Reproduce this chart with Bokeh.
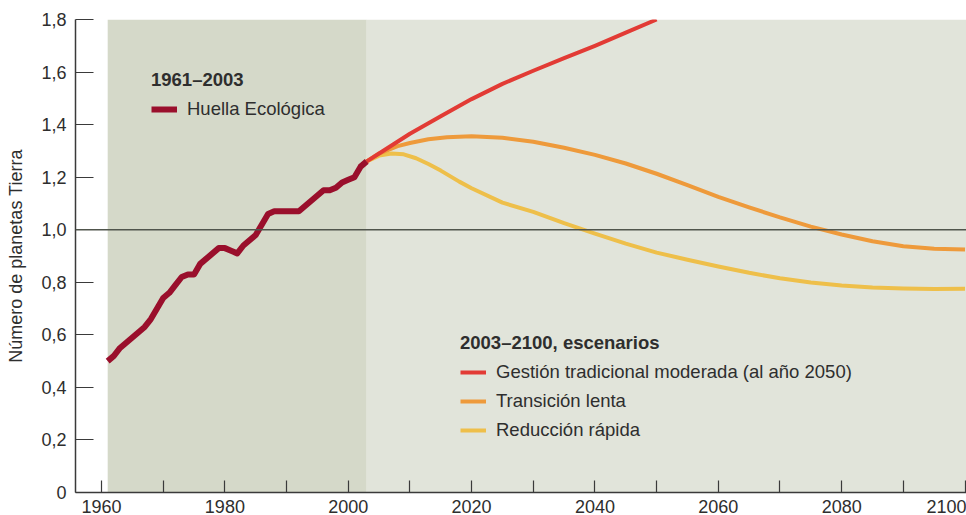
from bokeh.plotting import figure
from bokeh.models import (Range1d, FixedTicker, BoxAnnotation, Span, Legend, LegendItem)
from bokeh.embed import file_html
from bokeh.resources import INLINE

# ---------------- data ----------------
hist_years = list(range(1961, 2004))
huella = [0.50, 0.52, 0.55, 0.57, 0.59, 0.61, 0.63, 0.66, 0.70, 0.74,
          0.76, 0.79, 0.82, 0.83, 0.83, 0.87, 0.89, 0.91, 0.93, 0.93,
          0.92, 0.91, 0.94, 0.96, 0.98, 1.02, 1.06, 1.07, 1.07, 1.07,
          1.07, 1.07, 1.09, 1.11, 1.13, 1.15, 1.15, 1.16, 1.18, 1.19,
          1.20, 1.24, 1.26]

mod_years = [2003, 2005, 2010, 2015, 2020, 2025, 2030, 2035, 2040, 2045, 2050]
moderada = [1.26, 1.29, 1.365, 1.432, 1.497, 1.555, 1.605, 1.653, 1.70, 1.75, 1.80]

lenta_years = [2003, 2005, 2008, 2010, 2013, 2016, 2020, 2025, 2030, 2035, 2040,
               2045, 2050, 2055, 2060, 2065, 2070, 2075, 2080, 2085, 2090, 2095, 2100]
lenta = [1.26, 1.29, 1.318, 1.33, 1.344, 1.352, 1.356, 1.35, 1.335, 1.312, 1.285,
         1.252, 1.213, 1.17, 1.125, 1.085, 1.047, 1.012, 0.982, 0.956, 0.937, 0.928, 0.925]

rapida_years = [2003, 2005, 2007, 2009, 2011, 2013, 2015, 2018, 2020, 2025, 2030, 2035,
                2040, 2045, 2050, 2055, 2060, 2065, 2070, 2075, 2080, 2085, 2090, 2095, 2100]
rapida = [1.26, 1.282, 1.29, 1.287, 1.272, 1.25, 1.225, 1.183, 1.158, 1.103, 1.068, 1.025,
          0.985, 0.947, 0.913, 0.886, 0.86, 0.836, 0.815, 0.799, 0.788, 0.780, 0.776, 0.774, 0.775]

x_ticks = [1960, 1980, 2000, 2020, 2040, 2060, 2080, 2100]
x_minor = [1970, 1990, 2010, 2030, 2050, 2070, 2090]
y_ticks = [0, 0.2, 0.4, 0.6, 0.8, 1.0, 1.2, 1.4, 1.6, 1.8]
y_tick_labels = ["0", "0,2", "0,4", "0,6", "0,8", "1,0", "1,2", "1,4", "1,6", "1,8"]
reference_level = 1.0

title_hist = "1961–2003"
label_hist = "Huella Ecológica"
title_scen = "2003–2100, escenarios"
label_mod = "Gestión tradicional moderada (al año 2050)"
label_lenta = "Transición lenta"
label_rapida = "Reducción rápida"
y_label = "Número de planetas Tierra"

# ---------------- styling ----------------
FONT = "Liberation Sans"
TXT = "#2e2e2e"
C_HIST = "#9a0f2c"
C_MOD = "#e23b35"
C_LENTA = "#ee9a3b"
C_RAPIDA = "#eebf4a"

p = figure(width=966, height=515, output_backend="svg", toolbar_location=None,
           x_range=Range1d(1955.78, 2100.24), y_range=Range1d(0, 1.8),
           min_border_left=75, min_border_right=0, min_border_top=19, min_border_bottom=23)
p.outline_line_color = None
p.background_fill_color = "white"
p.border_fill_color = "white"
p.xgrid.visible = False
p.ygrid.visible = False

# shaded periods
p.add_layout(BoxAnnotation(left=hist_years[0], right=hist_years[-1], fill_color="#d5d9c9",
                           fill_alpha=1, line_alpha=0, level="underlay"))
p.add_layout(BoxAnnotation(left=hist_years[-1], fill_color="#e1e4da",
                           fill_alpha=1, line_alpha=0, level="underlay"))

p.add_layout(Span(location=reference_level, dimension="width", line_color="#50554c",
                  line_width=1.5))

r_rap = p.line(rapida_years, rapida, line_color=C_RAPIDA, line_width=4, line_join="round")
r_len = p.line(lenta_years, lenta, line_color=C_LENTA, line_width=4, line_join="round")
r_mod = p.line(mod_years, moderada, line_color=C_MOD, line_width=4, line_join="round")
r_hist = p.line(hist_years, huella, line_color=C_HIST, line_width=6, line_join="round")

# axes
xa = p.xaxis[0]
xa.ticker = FixedTicker(ticks=x_ticks, minor_ticks=x_minor)
xa.major_tick_in = 12
xa.major_tick_out = 0
xa.minor_tick_in = 12
xa.minor_tick_out = 0
xa.major_label_standoff = 7

ya = p.yaxis[0]
ya.ticker = FixedTicker(ticks=y_ticks, minor_ticks=[])
ya.major_label_overrides = {t: l for t, l in zip(y_ticks, y_tick_labels)}
ya.major_tick_in = 18
ya.major_tick_out = 0
ya.major_label_standoff = 9
ya.axis_label = y_label
ya.axis_label_standoff = 12
ya.axis_label_text_font_style = "normal"
ya.axis_label_text_font = FONT
ya.axis_label_text_font_size = "18px"
ya.axis_label_text_color = TXT

for ax in (xa, ya):
    ax.axis_line_color = "#3a3a3a"
    ax.axis_line_width = 1.5
    ax.major_tick_line_color = "#3a3a3a"
    ax.major_tick_line_width = 1.2
    ax.minor_tick_line_color = "#3a3a3a" if ax is xa else None
    ax.minor_tick_line_width = 1.2
    ax.major_label_text_font = FONT
    ax.major_label_text_font_size = "18px"
    ax.major_label_text_color = TXT


def make_legend(title, items, loc):
    return Legend(items=items, location=loc, title=title,
                  title_text_font=FONT, title_text_font_size="18.5px",
                  title_text_font_style="bold", title_text_color=TXT,
                  title_standoff=7,
                  label_text_font=FONT, label_text_font_size="18.5px", label_text_color=TXT,
                  label_standoff=10, glyph_width=26, glyph_height=22, label_height=22,
                  spacing=7, padding=0, margin=0,
                  background_fill_alpha=0, border_line_alpha=0)


leg1 = make_legend(title_hist, [LegendItem(label=label_hist, renderers=[r_hist])], (76, 372))
leg2 = make_legend(title_scen, [LegendItem(label=label_mod, renderers=[r_mod]),
                                LegendItem(label=label_lenta, renderers=[r_len]),
                                LegendItem(label=label_rapida, renderers=[r_rap])],
                   (385, 51))
p.add_layout(leg1)
p.add_layout(leg2)

open("out.html", "w").write(file_html(p, INLINE))
